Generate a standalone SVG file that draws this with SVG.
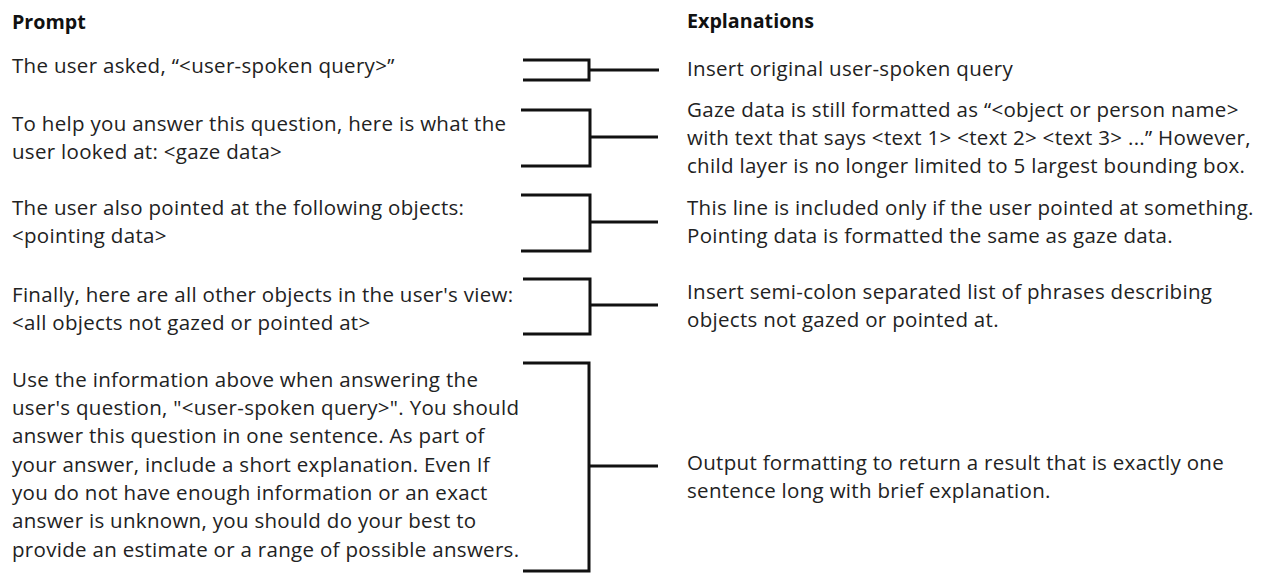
<svg xmlns="http://www.w3.org/2000/svg" width="1265" height="573" viewBox="0 0 1265 573">
<style>
  text { font-family: "Open Sans", "Noto Sans", "Liberation Sans", sans-serif; font-size: 20.5px; letter-spacing: 0.3px; fill: #222; }
  .hd { font-weight: 700; fill: #111; font-size: 19.7px; letter-spacing: 0; }
  .br { fill: none; stroke: #111; stroke-width: 3; stroke-linejoin: miter; stroke-linecap: butt; }
</style>
<rect width="1265" height="573" fill="#fff"/>
<g id="header-prompt"><text class="hd" x="12" y="29">Prompt</text></g>
<g id="header-explanations"><text class="hd" x="687" y="28">Explanations</text></g>

<g id="prompt-1"><text x="12" y="73">The user asked, “&lt;user-spoken query&gt;”</text></g>
<g id="prompt-2"><text x="12" y="131">To help you answer this question, here is what the</text><text x="12" y="159">user looked at: &lt;gaze data&gt;</text></g>
<g id="prompt-3"><text x="12" y="215">The user also pointed at the following objects:</text><text x="12" y="243">&lt;pointing data&gt;</text></g>
<g id="prompt-4"><text x="12" y="302">Finally, here are all other objects in the user's view:</text><text x="12" y="330">&lt;all objects not gazed or pointed at&gt;</text></g>
<g id="prompt-5">
<text x="12" y="387">Use the information above when answering the</text>
<text x="12" y="415">user's question, "&lt;user-spoken query&gt;". You should</text>
<text x="12" y="443">answer this question in one sentence. As part of</text>
<text x="12" y="472">your answer, include a short explanation. Even If</text>
<text x="12" y="500">you do not have enough information or an exact</text>
<text x="12" y="528">answer is unknown, you should do your best to</text>
<text x="12" y="557">provide an estimate or a range of possible answers.</text>
</g>

<g id="expl-1"><text x="687" y="76">Insert original user-spoken query</text></g>
<g id="expl-2"><text x="687" y="117">Gaze data is still formatted as “&lt;object or person name&gt;</text><text x="687" y="145">with text that says &lt;text 1&gt; &lt;text 2&gt; &lt;text 3&gt; ...” However,</text><text x="687" y="173">child layer is no longer limited to 5 largest bounding box.</text></g>
<g id="expl-3"><text x="687" y="215">This line is included only if the user pointed at something.</text><text x="687" y="243">Pointing data is formatted the same as gaze data.</text></g>
<g id="expl-4"><text x="687" y="299">Insert semi-colon separated list of phrases describing</text><text x="687" y="327">objects not gazed or pointed at.</text></g>
<g id="expl-5"><text x="687" y="470">Output formatting to return a result that is exactly one</text><text x="687" y="498">sentence long with brief explanation.</text></g>

<g id="connectors">
  <path class="br" d="M523,60 H589 V80 H523"/><path class="br" d="M589,70 H659"/>
  <path class="br" d="M521,110 H590 V166 H521"/><path class="br" d="M590,137 H658"/>
  <path class="br" d="M521,195 H590 V251 H521"/><path class="br" d="M590,222 H658"/>
  <path class="br" d="M523,279 H590 V334 H523"/><path class="br" d="M590,305 H658"/>
  <path class="br" d="M523,363 H589 V571 H523"/><path class="br" d="M589,466 H658"/>
</g>
</svg>
